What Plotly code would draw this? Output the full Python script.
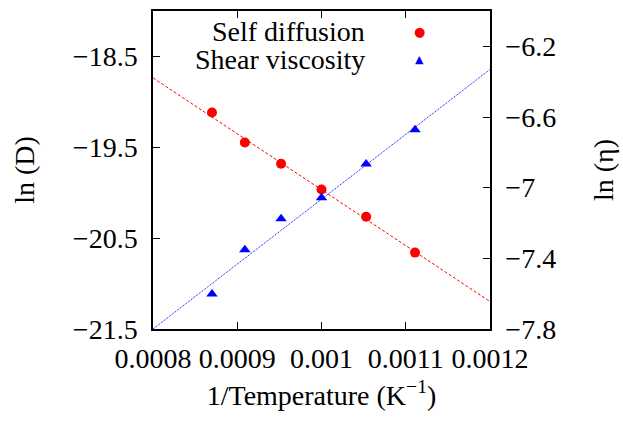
import plotly.graph_objects as go

# Data
inv_T = [0.000870, 0.000909, 0.000952, 0.001000, 0.001053, 0.001111]
ln_D = [-19.118, -19.447, -19.681, -19.964, -20.264, -20.659]
inv_T_eta = [0.000870, 0.000909, 0.000952, 0.001000, 0.001053, 0.001111]
ln_eta = [-7.602, -7.352, -7.176, -7.057, -6.866, -6.672]

fit_x = [0.0008, 0.0012]
fit_D = [-18.736, -21.198]
fit_eta = [-7.800, -6.331]

x_ticks = [0.0008, 0.0009, 0.001, 0.0011, 0.0012]
x_ticktext = ["0.0008", "0.0009", "0.001", "0.0011", "0.0012"]

FONT = "'Liberation Serif', 'Times New Roman', Times, serif"
FS = 28

fig = go.Figure()
fig.add_trace(go.Scatter(x=fit_x, y=fit_D, mode="lines",
                         line=dict(color="#ff0000", width=1, dash="3px,2px"),
                         showlegend=False, yaxis="y"))
fig.add_trace(go.Scatter(x=fit_x, y=fit_eta, mode="lines",
                         line=dict(color="#0000ff", width=1, dash="1px,1px"),
                         showlegend=False, yaxis="y2"))
fig.add_trace(go.Scatter(x=inv_T, y=ln_D, mode="markers",
                         marker=dict(symbol="circle", size=10, color="#ff0000"),
                         name="Self diffusion", showlegend=False, yaxis="y"))
fig.add_trace(go.Scatter(x=inv_T_eta, y=ln_eta, mode="markers",
                         marker=dict(symbol="triangle-up", size=10, color="#0000ff"),
                         name="Shear viscosity", showlegend=False, yaxis="y2"))

axis_common = dict(showline=True, linecolor="black", linewidth=1.5,
                   ticks="inside", ticklen=7, tickcolor="black", tickwidth=1,
                   showgrid=False, zeroline=False,
                   tickfont=dict(family=FONT, size=FS, color="black"))

fig.update_layout(
    width=623, height=423,
    margin=dict(l=153, r=132, t=9, b=94),
    plot_bgcolor="white", paper_bgcolor="white",
    font=dict(family=FONT, size=FS, color="black"),
    xaxis=dict(range=[0.0008, 0.0012], tickvals=x_ticks, ticktext=x_ticktext,
               mirror="ticks", ticklabelstandoff=4,
               title=dict(text="1/Temperature (K<sup>−1</sup>)",
                          font=dict(family=FONT, size=FS), standoff=12),
               **axis_common),
    yaxis=dict(range=[-21.5, -18.0], tick0=-21.5, dtick=1.0, ticklabelstandoff=8,
               title=dict(text="ln (D)", font=dict(family=FONT, size=FS), standoff=30),
               **axis_common),
    yaxis2=dict(range=[-7.8, -6.0], tick0=-7.8, dtick=0.4, overlaying="y", side="right",
                ticklabelstandoff=8,
                title=dict(text="ln (η)", font=dict(family=FONT, size=FS), standoff=38),
                **axis_common),
    annotations=[
        dict(text="Self diffusion", xref="paper", yref="paper", x=0.635, y=0.935,
             xanchor="right", yanchor="middle", showarrow=False,
             font=dict(family=FONT, size=FS, color="black")),
        dict(text="Shear viscosity", xref="paper", yref="paper", x=0.635, y=0.847,
             xanchor="right", yanchor="middle", showarrow=False,
             font=dict(family=FONT, size=FS, color="black")),
        dict(text="●", xref="paper", yref="paper", x=0.792, y=0.935,
             xanchor="center", yanchor="middle", showarrow=False,
             font=dict(family="DejaVu Sans", size=13, color="#ff0000")),
        dict(text="▲", xref="paper", yref="paper", x=0.792, y=0.847,
             xanchor="center", yanchor="middle", showarrow=False,
             font=dict(family="DejaVu Sans", size=11, color="#0000ff")),
    ],
)

fig.write_html("out.html")
